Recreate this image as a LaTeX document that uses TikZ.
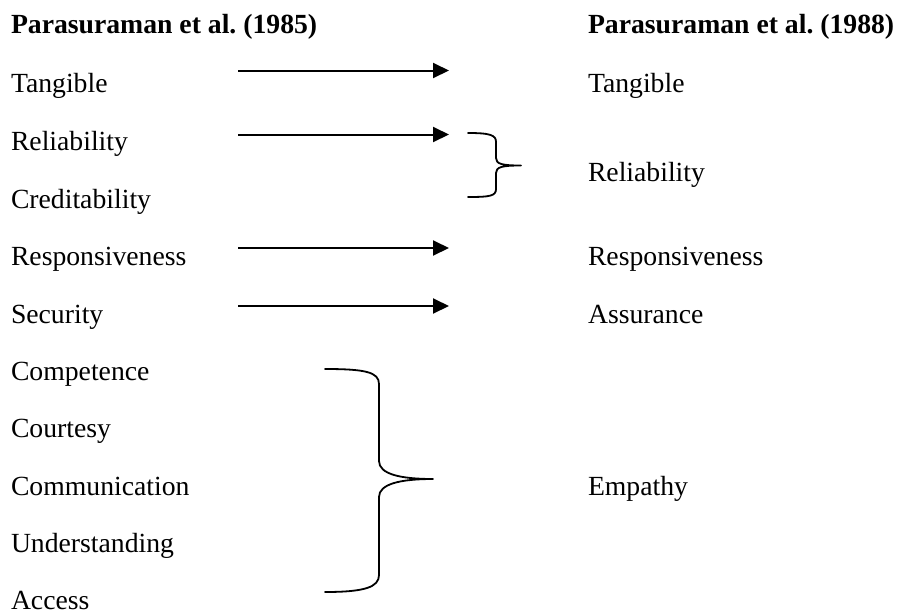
\documentclass[tikz,border=0pt]{standalone}
\usepackage{fontspec}
\setmainfont{Liberation Serif}
\usetikzlibrary{arrows.meta}
\begin{document}
\begin{tikzpicture}[x=1pt,y=-1pt,
  lbl/.style={anchor=base west,inner sep=0pt,outer sep=0pt,
    font=\fontsize{27.7}{33}\selectfont},
  head/.style={lbl,font=\fontsize{27.7}{33}\selectfont\bfseries},
  maparrow/.style={line width=2pt,-{Triangle[length=16pt,width=15pt]}},
  brace/.style={line width=1.8pt,line cap=round,line join=round}]
\useasboundingbox (0,0) rectangle (900,614);

% column headings
\node[head] (h85) at (11,33) {Parasuraman et al.\ (1985)};
\node[head] (h88) at (588,33) {Parasuraman et al.\ (1988)};

% dimensions of 1985
\node[lbl] (tan)  at (11,92)    {Tangible};
\node[lbl] (rel)  at (11,150)   {Reliability};
\node[lbl] (cred) at (11,208)   {Creditability};
\node[lbl] (resp) at (11,265)   {Responsiveness};
\node[lbl] (sec)  at (11,323)   {Security};
\node[lbl] (comp) at (11,380)   {Competence};
\node[lbl] (cour) at (11,437)   {Courtesy};
\node[lbl] (comm) at (11,495)   {Communication};
\node[lbl] (und)  at (11,552.5) {Understanding};
\node[lbl] (acc)  at (11,609)   {Access};

% dimensions of 1988
\node[lbl] (tan2)  at (588,92)  {Tangible};
\node[lbl] (rel2)  at (588,181) {Reliability};
\node[lbl] (resp2) at (588,265) {Responsiveness};
\node[lbl] (ass2)  at (588,323) {Assurance};
\node[lbl] (emp2)  at (588,495) {Empathy};

% arrow end points
\coordinate (a1s) at (238,70.5);  \coordinate (a1e) at (449,70.5);
\coordinate (a2s) at (238,134.5); \coordinate (a2e) at (449,134.5);
\coordinate (a3s) at (238,248);   \coordinate (a3e) at (449,248);
\coordinate (a4s) at (238,306);   \coordinate (a4e) at (449,306);

\draw[maparrow] (a1s) -- (a1e);
\draw[maparrow] (a2s) -- (a2e);
\draw[maparrow] (a3s) -- (a3e);
\draw[maparrow] (a4s) -- (a4e);

% small brace: Reliability + Creditability
\coordinate (sbt) at (468,133);
\coordinate (sbb) at (468,197);
\coordinate (sbm) at (521,165.5);
\draw[brace] (sbt) .. controls (490,133) and (496,135) .. (496,142)
  -- (496,158) .. controls (496,164) and (502,165.5) .. (sbm)
  .. controls (502,165.5) and (496,167) .. (496,173)
  -- (496,189) .. controls (496,196) and (490,197) .. (sbb);

% large brace: Competence ... Access
\coordinate (bbt) at (325,369);
\coordinate (bbb) at (325,592);
\coordinate (bbm) at (433,479);
\draw[brace] (bbt) .. controls (365,369) and (379,372) .. (379,384)
  -- (379,461) .. controls (379,474) and (400,479) .. (bbm)
  .. controls (400,479) and (379,484) .. (379,497)
  -- (379,575) .. controls (379,587) and (365,592) .. (bbb);
\end{tikzpicture}
\end{document}
